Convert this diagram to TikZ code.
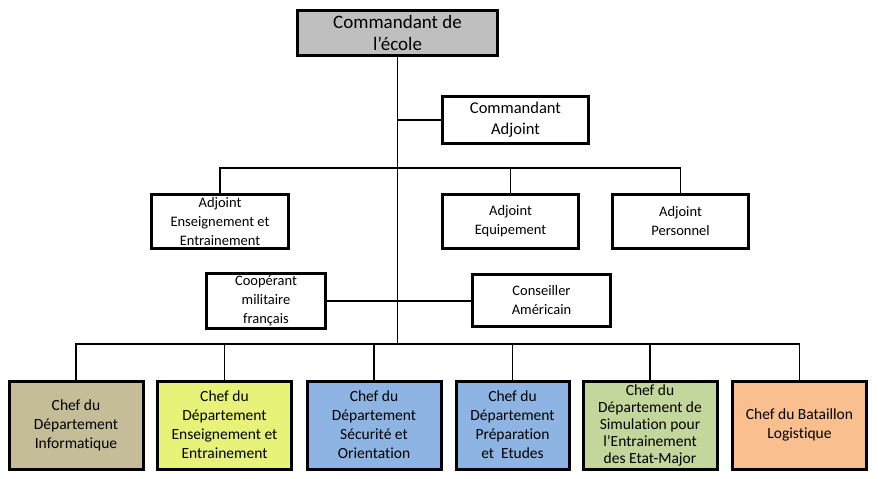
\documentclass[tikz,border=0pt]{standalone}
\usepackage{fontspec}
\setmainfont{Carlito}[Ligatures=NoCommon, Contextuals=NoAlternate]
\usetikzlibrary{positioning}
\definecolor{ChiefGray}{RGB}{191,191,191}
\definecolor{DeptTan}{RGB}{196,189,151}
\definecolor{DeptLime}{RGB}{230,243,120}
\definecolor{DeptBlue}{RGB}{141,180,226}
\definecolor{DeptOlive}{RGB}{195,214,155}
\definecolor{DeptOrange}{RGB}{250,191,143}

\begin{document}
\begin{tikzpicture}[x=1pt, y=-1pt,
    unit/.style={draw, line width=3pt, align=center, inner sep=0pt, font=\fontsize{14.5}{19}\selectfont},
    dept/.style={unit, minimum width=134pt, minimum height=88pt, font=\fontsize{15.5}{19}\selectfont},
    link/.style={line width=1.5pt}]
    \useasboundingbox (0,0) rectangle (878,479);
    % Draw nodes
    \node[unit, fill=ChiefGray, minimum width=200pt, minimum height=45pt, font=\fontsize{19}{22}\selectfont] (chief) at (397.5,33) {Commandant de\\l’école};
    \node[unit, minimum width=146pt, minimum height=47pt, font=\fontsize{16.5}{21}\selectfont] (deputy) at (515.5,120) {Commandant\\Adjoint};
    \node[unit, minimum width=137pt, minimum height=54pt] (ens) at (220,221.5) {Adjoint\\Enseignement et\\Entrainement};
    \node[unit, minimum width=136pt, minimum height=54pt] (equ) at (510.5,221.5) {Adjoint\\Equipement};
    \node[unit, minimum width=136pt, minimum height=54pt] (pers) at (680.5,221.5) {Adjoint\\Personnel};
    \node[unit, minimum width=119pt, minimum height=55pt] (coop) at (266,301) {Coopérant\\militaire\\français};
    \node[unit, minimum width=138pt, minimum height=52pt] (advisor) at (541.5,300.5) {Conseiller\\Américain};
    \node[dept, fill=DeptTan] (d1) at (76,425) {Chef du\\Département\\Informatique};
    \node[dept, fill=DeptLime] (d2) at (224.5,425) {Chef du\\Département\\Enseignement et\\Entrainement};
    \node[dept, fill=DeptBlue] (d3) at (374,425) {Chef du\\Département\\Sécurité et\\Orientation};
    \node[dept, fill=DeptBlue, minimum width=113pt] (d4) at (512.5,425) {Chef du\\Département\\Préparation\\et~ Etudes};
    \node[dept, fill=DeptOlive, font=\fontsize{15.5}{17}\selectfont] (d5) at (650,425) {Chef du\\Département de\\Simulation pour\\l’Entrainement\\des Etat-Major};
    \node[dept, fill=DeptOrange] (d6) at (799.5,425) {Chef du Bataillon\\Logistique};
    % Draw links
    \coordinate (bus1) at (397.5,168);
    \coordinate (bus2) at (397.5,344);
    \draw[link] (chief.south) -- (bus2);
    \draw[link] (deputy.west -| chief.south) -- (deputy.west);
    \draw[link] (ens.north) |- (bus1) -| (pers.north);
    \draw[link] (equ.north) -- (equ.north |- bus1);
    \draw[link] (coop.east) -- (coop.east -| advisor.west);
    \draw[link] (d1.north) |- (bus2) -| (d6.north);
    \foreach \d in {d2,d3,d4,d5}
        \draw[link] (\d.north) -- (\d.north |- bus2);
\end{tikzpicture}
\end{document}
